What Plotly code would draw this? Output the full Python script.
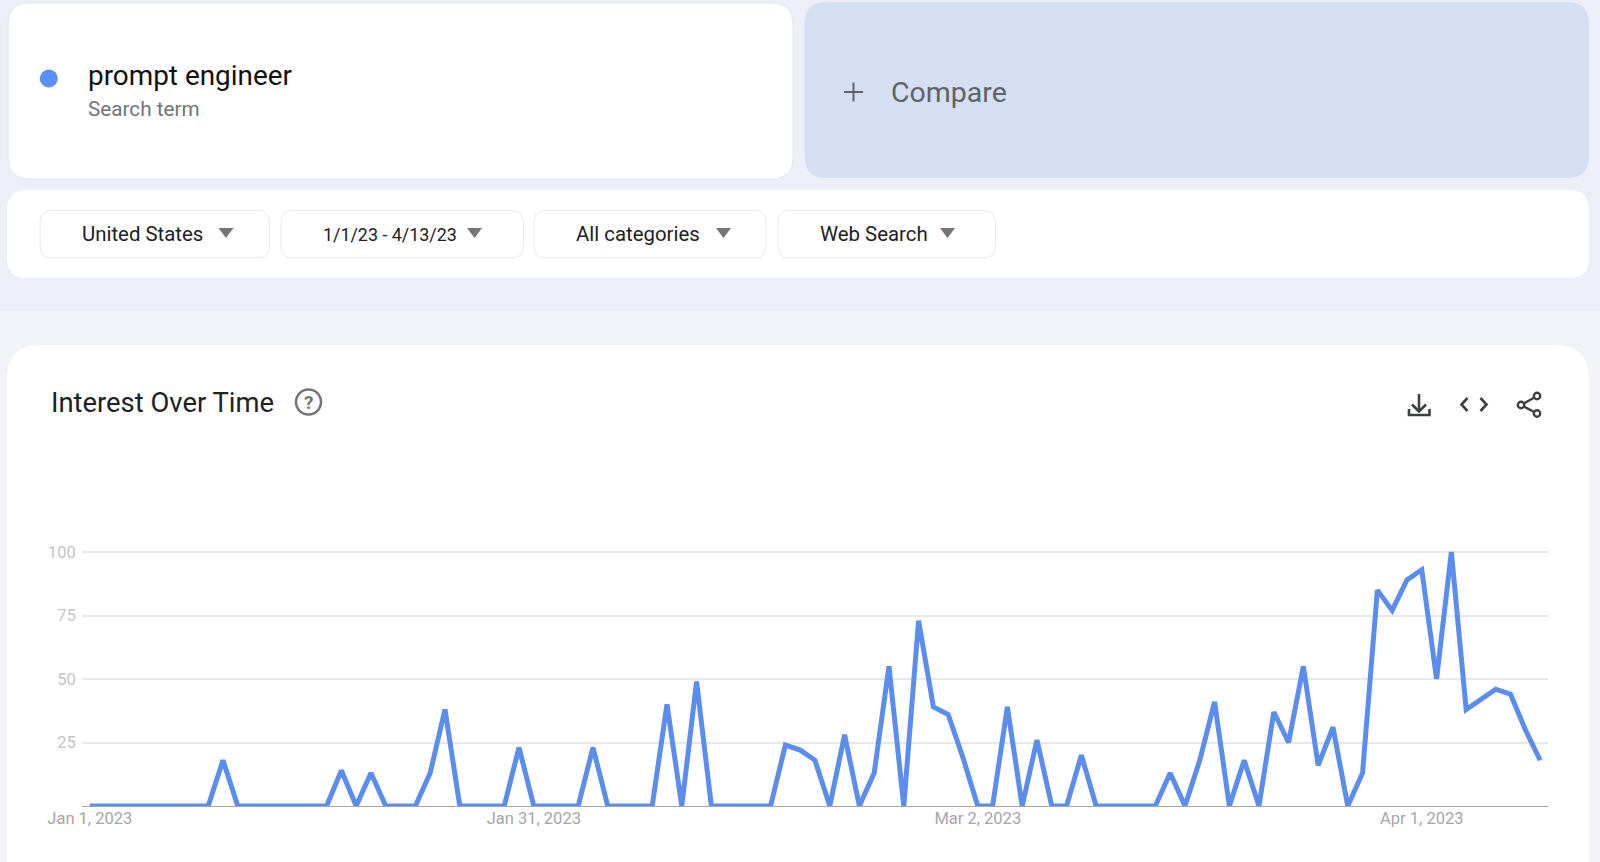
import plotly.graph_objects as go
import pandas as pd

W, H = 1600, 862

term = "prompt engineer"
term_sub = "Search term"
compare_label = "Compare"
filter_labels = ["United States", "1/1/23 - 4/13/23", "All categories", "Web Search"]
chart_title = "Interest Over Time"

start_date = "2023-01-01"
interest = [
    0, 0, 0, 0, 0, 0, 0, 0, 0, 18,
    0, 0, 0, 0, 0, 0, 0, 14, 0, 13,
    0, 0, 0, 13, 38, 0, 0, 0, 0, 23,
    0, 0, 0, 0, 23, 0, 0, 0, 0, 40,
    0, 49, 0, 0, 0, 0, 0, 24, 22, 18,
    0, 28, 0, 13, 55, 0, 73, 39, 36, 19,
    0, 0, 39, 0, 26, 0, 0, 20, 0, 0,
    0, 0, 0, 13, 0, 18, 41, 0, 18, 0,
    37, 25, 55, 16, 31, 0, 13, 85, 77, 89,
    93, 50, 100, 38, 42, 46, 44, 30, 18,
]
x_tick_dates = ["2023-01-01", "2023-01-31", "2023-03-02", "2023-04-01"]
x_tick_labels = ["Jan 1, 2023", "Jan 31, 2023", "Mar 2, 2023", "Apr 1, 2023"]
y_ticks = [25, 50, 75, 100]

dates = pd.date_range(start_date, periods=len(interest), freq="D")

BLUE = "#5a8dee"
UI_FONT = "Roboto"


def px(x):
    return x / W


def py(y):
    return 1 - y / H


def round_rect(x0, y0, x1, y1, r):
    p = [
        f"M {px(x0 + r)} {py(y0)}", f"L {px(x1 - r)} {py(y0)}",
        f"Q {px(x1)} {py(y0)} {px(x1)} {py(y0 + r)}", f"L {px(x1)} {py(y1 - r)}",
        f"Q {px(x1)} {py(y1)} {px(x1 - r)} {py(y1)}", f"L {px(x0 + r)} {py(y1)}",
        f"Q {px(x0)} {py(y1)} {px(x0)} {py(y1 - r)}", f"L {px(x0)} {py(y0 + r)}",
        f"Q {px(x0)} {py(y0)} {px(x0 + r)} {py(y0)}", "Z",
    ]
    return " ".join(p)


def poly(points, close=False):
    s = " ".join(("M" if i == 0 else "L") + f" {px(a)} {py(b)}" for i, (a, b) in enumerate(points))
    return s + (" Z" if close else "")


shapes = []


def add_path(path, fill="rgba(0,0,0,0)", line="rgba(0,0,0,0)", width=0):
    shapes.append(dict(type="path", xref="paper", yref="paper", path=path, fillcolor=fill,
                       line=dict(color=line, width=width), layer="below"))


def add_circle(cx, cy, r, fill="rgba(0,0,0,0)", line="rgba(0,0,0,0)", width=0):
    shapes.append(dict(type="circle", xref="paper", yref="paper", x0=px(cx - r), x1=px(cx + r),
                       y0=py(cy + r), y1=py(cy - r), fillcolor=fill,
                       line=dict(color=line, width=width), layer="below"))


# page bands
add_path(poly([(0, 0), (W, 0), (W, 311), (0, 311)], True), fill="#eceff8")
add_path(poly([(0, 311), (W, 311), (W, H), (0, H)], True), fill="#f2f3f8")
# cards
add_path(round_rect(8, 3, 793, 179, 22), fill="#ffffff", line="#e3e6ee", width=1)
add_path(round_rect(804.5, 2, 1589, 178, 22), fill="#d6dff1")
add_path(round_rect(7, 190, 1589, 278, 20), fill="#ffffff")
add_path(round_rect(7, 345, 1589, 900, 34), fill="#ffffff")
# filter buttons
buttons = [(40, 269.5), (281, 523.5), (534, 766), (778, 995.5)]
arrows = [226, 474.5, 723.5, 947.5]
text_x = [82, 323, 576, 820]
text_size = [20.4, 17.9, 20.4, 20.4]
for (a, b), ax_ in zip(buttons, arrows):
    add_path(round_rect(a, 210.5, b, 258, 12), fill="#ffffff", line="#e6e8ec", width=1)
    add_path(poly([(ax_ - 7.5, 228), (ax_ + 7.5, 228), (ax_, 238)], True), fill="#757575")
# dot
add_circle(48.8, 78.5, 9, fill="#5b8ff5")
# plus
add_path(poly([(844, 92), (863, 92)]), line="#5f6368", width=2)
add_path(poly([(853.5, 82.5), (853.5, 101.5)]), line="#5f6368", width=2)
# help icon
add_circle(308.5, 402, 12.5, line="#757575", width=2.5)
# download icon
ICON = "#3c4043"
add_path(poly([(1419, 394), (1419, 411)]), line=ICON, width=2.6)
add_path(poly([(1412, 404.5), (1419, 411.5), (1426, 404.5)]), line=ICON, width=2.6)
add_path(poly([(1409, 409), (1409, 415), (1429.5, 415), (1429.5, 409)]), line=ICON, width=2.6)
# code icon
add_path(poly([(1467.5, 398), (1461.5, 404.5), (1467.5, 411)]), line=ICON, width=2.6)
add_path(poly([(1480.5, 398), (1486.5, 404.5), (1480.5, 411)]), line=ICON, width=2.6)
# share icon
add_path(poly([(1537, 396), (1521, 405), (1537, 413.5)]), line=ICON, width=2.4)
add_circle(1537, 396, 3.2, fill="#ffffff", line=ICON, width=2.4)
add_circle(1521, 405, 3.2, fill="#ffffff", line=ICON, width=2.4)
add_circle(1537, 413.5, 3.2, fill="#ffffff", line=ICON, width=2.4)

annotations = []


def text(x, y, s, size, color, anchor="left"):
    annotations.append(dict(x=px(x), y=py(y), xref="paper", yref="paper", text=s, showarrow=False,
                            xanchor=anchor, yanchor="middle", align=anchor, borderpad=0, borderwidth=0,
                            font=dict(family=UI_FONT, size=size, color=color)))


text(87.5, 76, term, 27.9, "#111111")
text(87.5, 109, term_sub, 20.7, "#70757a")
text(891, 93, compare_label, 28.5, "#5f6368")
for tx, lab, sz in zip(text_x, filter_labels, text_size):
    text(tx, 234, lab, sz, "#202124")
text(50.5, 403, chart_title, 27.4, "#202124")
text(308.5, 402, "<b>?</b>", 19, "#757575", anchor="center")

fig = go.Figure()
fig.add_trace(go.Scatter(x=dates, y=interest, mode="lines", line=dict(color=BLUE, width=5),
                         hoverinfo="x+y", showlegend=False))

fig.update_layout(
    template="none",
    width=W, height=H, autosize=False,
    margin=dict(l=0, r=0, t=0, b=0, pad=0),
    paper_bgcolor="#ffffff", plot_bgcolor="rgba(0,0,0,0)",
    shapes=shapes, annotations=annotations,
    xaxis=dict(
        automargin=False,
        domain=[px(81.7), px(1548)],
        range=["2022-12-31 10:52", "2023-04-09 12:43"],
        tickmode="array", tickvals=x_tick_dates, ticktext=x_tick_labels,
        showgrid=False, showline=True, linecolor="#a6a6a6", linewidth=1.3,
        ticks="", tickfont=dict(family="Roboto", size=16.5, color="#a6a6a6"),
        ticklabelstandoff=-3,
        zeroline=False,
    ),
    yaxis=dict(
        automargin=False,
        domain=[py(806), py(549.46)],
        range=[0, 101],
        tickmode="array", tickvals=y_ticks,
        showgrid=True, gridcolor="#e8e8e8", gridwidth=1.6,
        showline=False, ticks="", zeroline=False,
        tickfont=dict(family="Roboto", size=16.5, color="#c4c4c4"),
        ticklabelstandoff=5,
    ),
)

fig.write_html("out.html", config={"displayModeBar": False},
               post_script="document.body.style.margin='0';document.body.style.overflow='hidden';")
